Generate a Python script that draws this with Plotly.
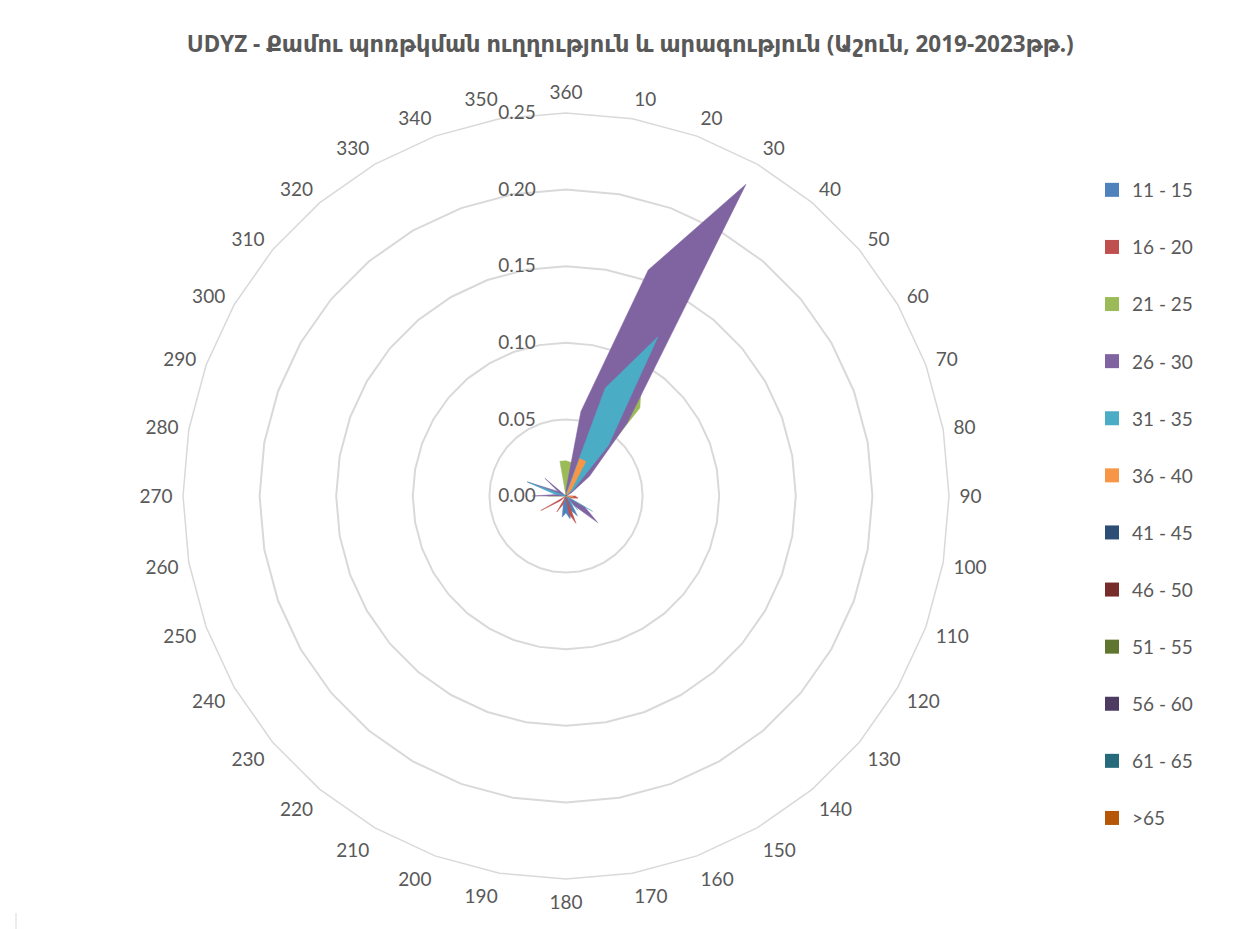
import plotly.graph_objects as go

angles = [10 * (i + 1) for i in range(36)]  # 10 .. 360
angle_labels = [str(a) for a in angles]
category_order = ["360"] + angle_labels[:-1]  # 360 at the top, then clockwise

series_names = ["11 - 15", "16 - 20", "21 - 25", "26 - 30", "31 - 35", "36 - 40",
                "41 - 45", "46 - 50", "51 - 55", "56 - 60", "61 - 65", ">65"]

colors = ["#4F81BD", "#C0504D", "#9BBB59", "#8064A2", "#4BACC6", "#F79646",
          "#2C4D75", "#772C2A", "#5F7530", "#4D3B62", "#276A7C", "#B65708"]


def row(d):
    return [d.get(a, 0.0) for a in angles]


s_11_15 = row({10: 0.003, 20: 0.004, 30: 0.005, 140: 0.004, 150: 0.015, 160: 0.010,
               170: 0.015, 180: 0.011, 190: 0.014, 200: 0.005})
s_16_20 = row({30: 0.004, 90: 0.006, 100: 0.008, 110: 0.004, 160: 0.019, 170: 0.012,
               200: 0.006, 210: 0.012, 230: 0.005, 240: 0.019})
s_21_25 = row({350: 0.023, 360: 0.023, 10: 0.022, 20: 0.050, 30: 0.100, 40: 0.075,
               50: 0.010, 270: 0.012})
s_26_30 = row({10: 0.056, 20: 0.157, 30: 0.235, 40: 0.062, 50: 0.020, 60: 0.004,
               120: 0.014, 130: 0.027, 140: 0.008, 270: 0.022, 280: 0.006,
               290: 0.027, 300: 0.006, 310: 0.018, 360: 0.004})
s_31_35 = row({10: 0.002, 20: 0.075, 30: 0.120, 40: 0.043, 50: 0.006, 120: 0.020,
               140: 0.012, 280: 0.008, 290: 0.026})
s_36_40 = row({20: 0.026, 30: 0.026, 40: 0.005, 90: 0.004, 100: 0.005})
s_41_45 = row({30: 0.001})
s_46_50 = row({})
s_51_55 = row({})
s_56_60 = row({})
s_61_65 = row({})
s_over_65 = row({})

series_values = [s_11_15, s_16_20, s_21_25, s_26_30, s_31_35, s_36_40,
                 s_41_45, s_46_50, s_51_55, s_56_60, s_61_65, s_over_65]

radial_ticks = [0.0, 0.05, 0.10, 0.15, 0.20, 0.25]

FONT = "Lato, 'Open Sans', 'DejaVu Sans', sans-serif"
TXT = "#595959"
GRID = "#D9D9D9"

fig = go.Figure()
for name, vals, col in zip(series_names, series_values, colors):
    fig.add_trace(go.Scatterpolar(
        r=vals + [vals[0]],
        theta=angle_labels + [angle_labels[0]],
        mode="lines",
        fill="toself",
        fillcolor=col,
        line=dict(color=col, width=0.5),
        name=name,
        legendgroup=name,
        showlegend=False,
        hoverinfo="skip",
    ))

# legend entries (square swatches)
for name, col in zip(series_names, colors):
    fig.add_trace(go.Scatterpolar(
        r=[None], theta=[angle_labels[0]],
        mode="markers",
        marker=dict(symbol="square", size=14, color=col),
        name=name,
        legendgroup=name,
        showlegend=True,
        hoverinfo="skip",
    ))

cx, cy, R = 558.0, 488.0, 383.0
W, H = 1252, 929

fig.update_layout(
    width=W, height=H,
    paper_bgcolor="white",
    plot_bgcolor="white",
    margin=dict(l=0, r=0, t=0, b=0),
    font=dict(family=FONT, color=TXT),
    title=dict(
        text="<b>UDYZ - Քամու պոռթկման ուղղություն և արագություն (Աշուն, 2019-2023թթ.)</b>",
        x=0.497, xanchor="center", y=1 - 36 / H, yanchor="middle",
        font=dict(family="'Noto Sans', 'DejaVu Sans', sans-serif", size=22.5, color=TXT),
    ),
    polar=dict(
        domain=dict(x=[(cx - R) / W, (cx + R) / W],
                    y=[(H - cy - R) / H, (H - cy + R) / H]),
        bgcolor="white",
        gridshape="linear",
        angularaxis=dict(
            type="category",
            categoryorder="array",
            categoryarray=category_order,
            direction="clockwise",
            rotation=90,
            showgrid=False,
            showline=True,
            linecolor=GRID,
            linewidth=1.5,
            ticks="outside",
            ticklen=6,
            tickcolor="rgba(0,0,0,0)",
            tickfont=dict(family=FONT, size=19, color=TXT),
        ),
        radialaxis=dict(
            range=[0, 0.25],
            tickmode="array",
            tickvals=radial_ticks,
            ticktext=[f"{v:.2f}" for v in radial_ticks],
            showline=False,
            showgrid=True,
            gridcolor=GRID,
            gridwidth=1.5,
            ticks="outside",
            ticklen=23,
            tickcolor="rgba(0,0,0,0)",
            angle=90,
            side="counterclockwise",
            tickangle=90,
            tickfont=dict(family=FONT, size=19, color=TXT),
        ),
    ),
    legend=dict(
        x=1084 / W, y=1 - 163 / H, xanchor="left", yanchor="top",
        font=dict(family=FONT, size=19, color=TXT),
        tracegroupgap=29.4,
        itemwidth=30,
        bgcolor="rgba(0,0,0,0)",
    ),
    showlegend=True,
)

fig.add_shape(type="line", xref="paper", yref="paper",
              x0=8 / W, x1=8 / W, y0=0, y1=24 / H,
              line=dict(color=GRID, width=1))

fig.write_html("out.html")
